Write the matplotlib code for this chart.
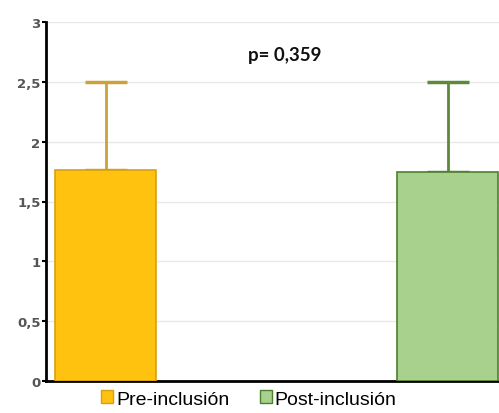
import matplotlib.pyplot as plt
from matplotlib.patches import Patch

plt.rcParams['font.family'] = ['Liberation Sans', 'DejaVu Sans']

groups = ['Pre-inclusión', 'Post-inclusión']
means = [1.76, 1.75]
upper = [2.5, 2.5]
face = ['#FFC20E', '#A9D18E']
edge = ['#D9A010', '#4E7F2E']
errc = ['#C9A23A', '#5A8A3A']
p_text = 'p= 0,359'
yticks = [0, 0.5, 1, 1.5, 2, 2.5, 3]
ylabels = ['0', '0,5', '1', '1,5', '2', '2,5', '3']

fig = plt.figure(figsize=(4.99, 4.14), dpi=100)
ax = fig.add_axes([46 / 499, 32 / 414, 1 - 46 / 499, 359 / 414])

x = [0, 1]
w = 0.295
for i in range(2):
    ax.bar(x[i], means[i], width=w, color=face[i], edgecolor=edge[i], linewidth=1.2, zorder=3)
    ax.errorbar(x[i], means[i], yerr=[[0], [upper[i] - means[i]]], ecolor=errc[i],
                elinewidth=2, capsize=15, capthick=2.5, fmt='none', zorder=2)

ax.set_xlim(-0.174, 1.15)
ax.set_ylim(0, 3)
ax.set_yticks(yticks)
ax.set_yticklabels(ylabels, fontsize=9.5, fontweight='bold', color='#555555', family='DejaVu Sans')
ax.set_xticks([])
ax.grid(axis='y', color='#e8e8e8', linewidth=1, zorder=0)
ax.spines['top'].set_visible(False)
ax.spines['right'].set_visible(False)
ax.spines['left'].set_linewidth(2)
ax.spines['bottom'].set_linewidth(2)
ax.tick_params(axis='y', length=3, width=1.5, pad=1)

ax.text(0.525, 2.73, p_text, ha='center', va='center', fontsize=13.5, fontweight='bold',
        color='#111111', family='Lato')

handles = [Patch(facecolor=face[i], edgecolor=edge[i], label=groups[i]) for i in range(2)]
fig.legend(handles=handles, loc='center', bbox_to_anchor=(249 / 499, 14 / 414), ncol=2,
           frameon=False, fontsize=14, handlelength=0.6, handleheight=0.6,
           handletextpad=0.15, columnspacing=1.6)

fig.savefig('out.png', dpi=100)
